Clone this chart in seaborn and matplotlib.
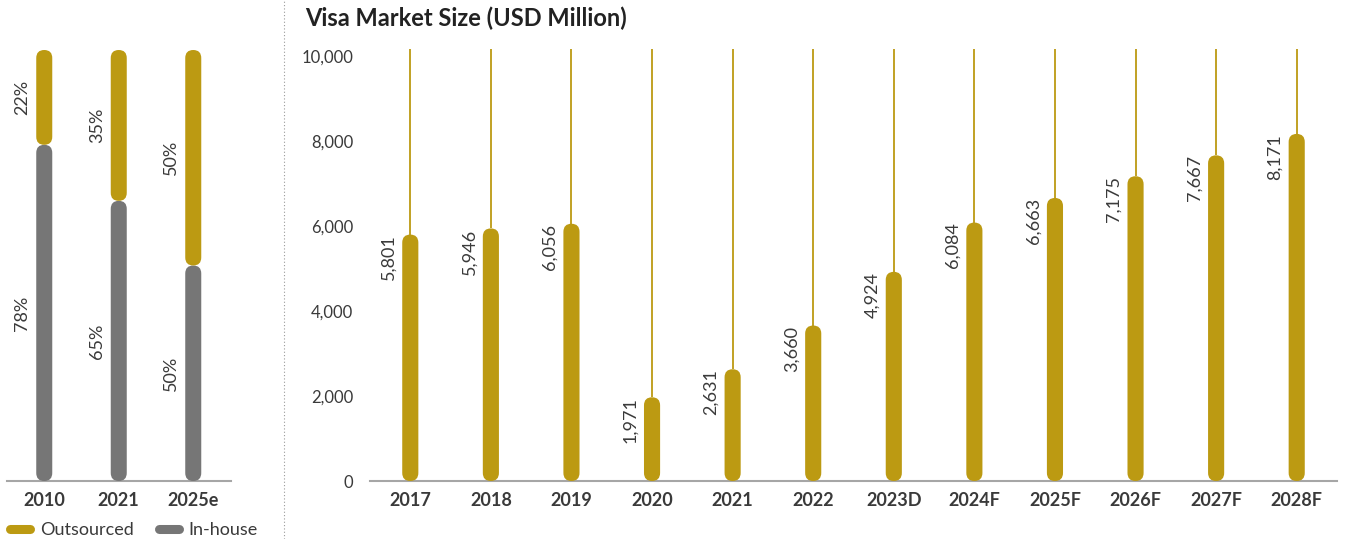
"""Visa market size chart with outsourced / in-house share panel."""

import matplotlib.pyplot as plt
import numpy as np
import pandas as pd
import seaborn as sns
from matplotlib.patches import FancyBboxPatch
from matplotlib.lines import Line2D

share_years = ['2010', '2021', '2025e']
outsourced = [22, 35, 50]
inhouse = [78, 65, 50]

years = ['2017', '2018', '2019', '2020', '2021', '2022', '2023D',
         '2024F', '2025F', '2026F', '2027F', '2028F']
market = [5801, 5946, 6056, 1971, 2631, 3660, 4924, 6084, 6663, 7175, 7667, 8171]

GOLD = '#BC9A12'
GREY = '#767676'
TEXT = '#3A3A3A'
YTOP = 10170

sns.set_theme(style='white')
plt.rcParams['font.family'] = ['Lato', 'DejaVu Sans']


def capsule(ax, x, b, w, h, color):
    """Draw one rounded bar in data units of ax."""
    p0 = ax.transData.transform((0, 0))
    p1 = ax.transData.transform((1, 1))
    aspect = (p1[0] - p0[0]) / (p1[1] - p0[1])
    ax.add_patch(FancyBboxPatch((x, b), w, h,
                                boxstyle=f'round,pad=0,rounding_size={w / 2}',
                                mutation_aspect=aspect, fc=color, ec='none', zorder=3))


def round_bars(ax, patches, bottoms, color):
    """Swap seaborn's square bars for capsule shaped ones."""
    for p, b in zip(patches, bottoms):
        p.set_visible(False)
        capsule(ax, p.get_x(), b, p.get_width(), p.get_height() - b, color)


fig = plt.figure(figsize=(13.45, 5.39), dpi=100)
ax1 = fig.add_axes([7 / 1345, 58 / 539, 223.5 / 1345, 431 / 539])
ax2 = fig.add_axes([370 / 1345, 58 / 539, 967 / 1345, 432 / 539])

# left panel: share split
share = pd.DataFrame({'year': share_years, 'out': outsourced, 'in': inhouse})
share['tot'] = share['out'] + share['in']
sns.barplot(data=share, x='year', y='in', color=GREY, width=0.215, ax=ax1)
n = len(ax1.patches)
sns.barplot(data=share, x='year', y='tot', color=GOLD, width=0.215, ax=ax1)
ax1.set_ylim(0, 100)
ax1.set_xlim(-0.5, 2.5)
round_bars(ax1, list(ax1.patches[:n]), [0] * n, GREY)
round_bars(ax1, list(ax1.patches[n:2 * n]), inhouse, GOLD)
for i in range(len(share_years)):
    ax1.text(i - 0.295, inhouse[i] / 2, f'{inhouse[i]}%', rotation=90,
             ha='center', va='center', fontsize=13, color=TEXT)
    ax1.text(i - 0.295, inhouse[i] + outsourced[i] / 2, f'{outsourced[i]}%', rotation=90,
             ha='center', va='center', fontsize=13, color=TEXT)

# right panel: market size
mk = pd.DataFrame({'year': years, 'size': market})
ax2.vlines(range(len(years)), market, YTOP, color=GOLD, lw=1.3, zorder=2)
sns.barplot(data=mk, x='year', y='size', color=GOLD, width=0.2, ax=ax2)
ax2.set_ylim(0, YTOP)
ax2.set_xlim(-0.5, 11.5)
round_bars(ax2, list(ax2.patches), [0] * len(years), GOLD)
for i, v in enumerate(market):
    ax2.text(i - 0.27, v, f'{v:,}', rotation=90, ha='center', va='top',
             fontsize=13, color=TEXT)
ax2.set_yticks(range(0, 10001, 2000))
ax2.set_yticklabels([f'{t:,}' for t in range(0, 10001, 2000)])

for ax in (ax1, ax2):
    ax.set_xlabel('')
    ax.set_ylabel('')
    for s in ('top', 'right', 'left'):
        ax.spines[s].set_visible(False)
    ax.spines['bottom'].set_color('#A6A6A6')
    ax.spines['bottom'].set_linewidth(1.5)
    ax.tick_params(axis='x', length=0, pad=8, labelsize=13, labelcolor=TEXT)
    for t in ax.get_xticklabels():
        t.set_fontweight('bold')
ax1.set_yticks([])
ax2.tick_params(axis='y', length=0, pad=12, labelsize=12, labelcolor=TEXT)

fig.text(305 / 1345, 1 - 18 / 539, 'Visa Market Size (USD Million)', fontsize=17,
         fontweight='bold', color='#222222', va='center', ha='left')
fig.add_artist(Line2D([284 / 1345, 284 / 1345], [0, 1], transform=fig.transFigure,
                      color='#9A9A9A', lw=0.8, ls=(0, (1, 2))))

handles = [Line2D([0], [0], color=GOLD, lw=6.5, solid_capstyle='round'),
           Line2D([0], [0], color=GREY, lw=6.5, solid_capstyle='round')]
fig.legend(handles, ['Outsourced', 'In-house'], loc='center left',
           bbox_to_anchor=(10 / 1345, 1 - 530 / 539), ncol=2, frameon=False,
           fontsize=13, handlelength=1.1, handletextpad=0.55, columnspacing=1.4,
           borderaxespad=0, borderpad=0, labelcolor=TEXT)

plt.savefig('out.png', dpi=100)
